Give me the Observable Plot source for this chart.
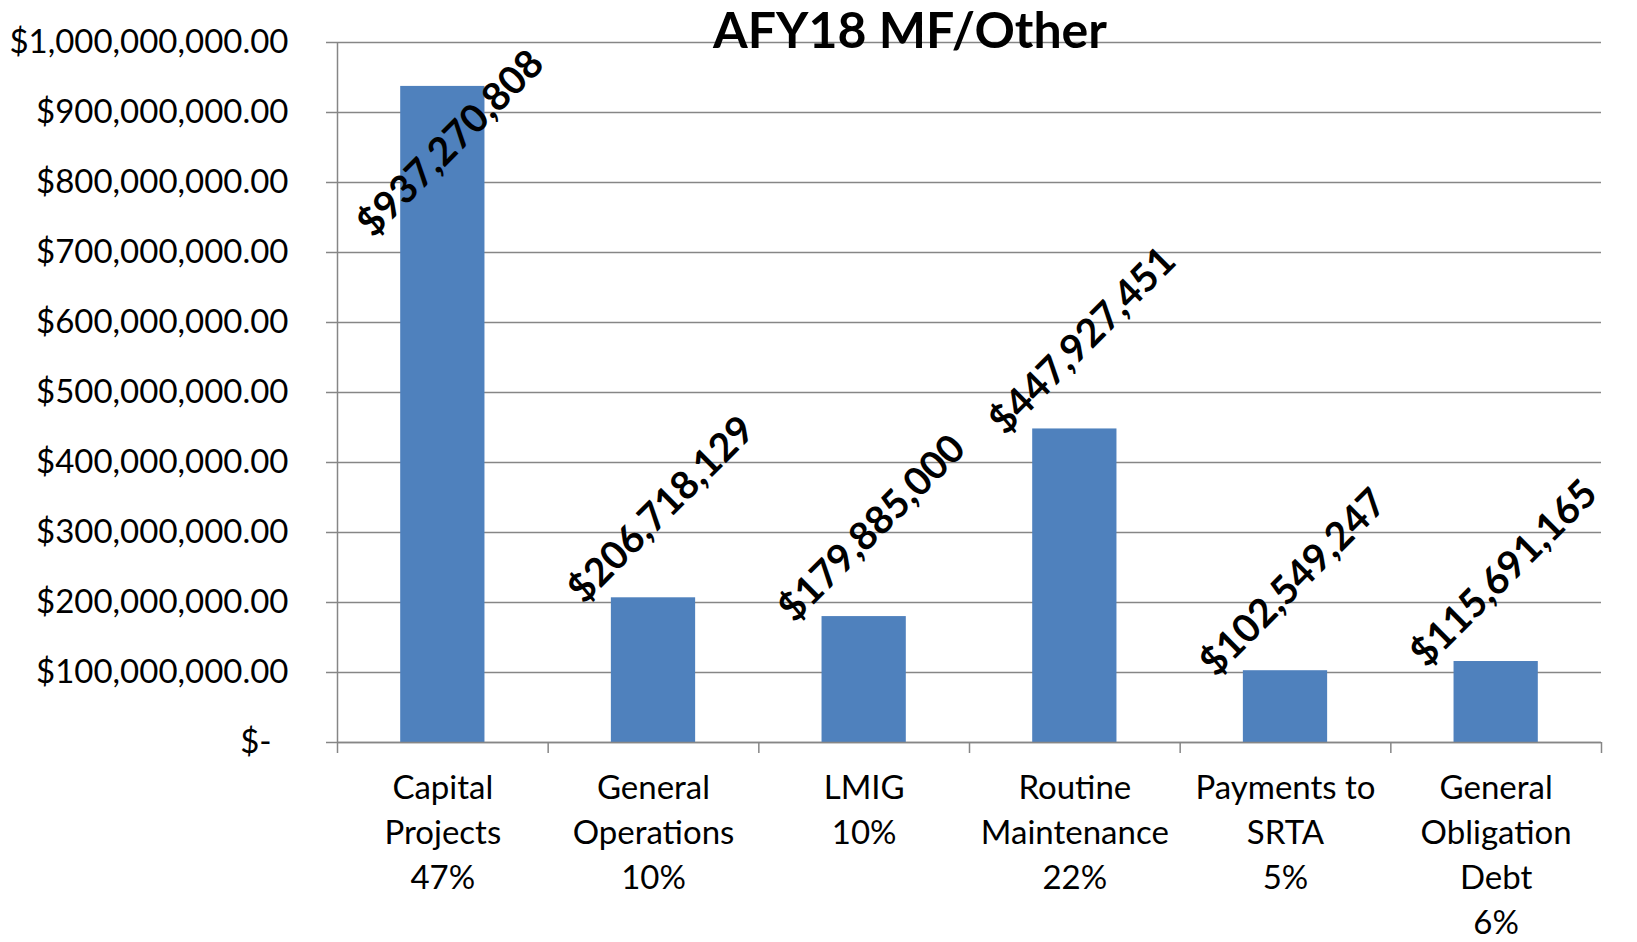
<!DOCTYPE html>
<html>
<head>
<meta charset="utf-8">
<script src="https://cdn.jsdelivr.net/npm/d3@7"></script>
<script src="https://cdn.jsdelivr.net/npm/@observablehq/plot@0.6"></script>
<style>
  html, body { margin: 0; padding: 0; background: #fff; }
  #wrap { position: relative; width: 1637px; height: 942px; }
  #title { position: absolute; top: 4px; left: 910px; transform: translateX(-50%);
           font-family: Lato, sans-serif; font-weight: bold; font-size: 50px; line-height: 50px;
           white-space: nowrap; color: #000; }
</style>
</head>
<body>
<div id="wrap"><div id="chart"></div><div id="title">AFY18 MF/Other</div></div>
<script>
const categories = ["Capital Projects", "General Operations", "LMIG", "Routine Maintenance", "Payments to SRTA", "General Obligation Debt"];
const categoryLines = [["Capital", "Projects"], ["General", "Operations"], ["LMIG"], ["Routine", "Maintenance"], ["Payments to", "SRTA"], ["General", "Obligation", "Debt"]];
const shares = ["47%", "10%", "10%", "22%", "5%", "6%"];
const amounts = [937270808, 206718129, 179885000, 447927451, 102549247, 115691165];
const yTicks = [0, 100e6, 200e6, 300e6, 400e6, 500e6, 600e6, 700e6, 800e6, 900e6, 1000e6];

const W = 1637, H = 942, ML = 337, MR = 36, MT = 42, MB = 200;
const step = (W - ML - MR) / categories.length;
const gray = "#868686";

const rows = categories.map((c, i) => ({
  i, category: c, value: amounts[i],
  label: [...categoryLines[i], shares[i]].join("\n")
}));

const money = d3.format("$,.2f");
const money0 = d3.format("$,.0f");

const chart = Plot.plot({
  width: W, height: H,
  marginLeft: ML, marginRight: MR, marginTop: MT, marginBottom: MB,
  style: { fontFamily: "Lato, sans-serif", fontSize: "33px", color: "#000", background: "transparent" },
  x: { type: "linear", domain: [0, categories.length], axis: null },
  y: { domain: [0, 1e9], axis: null },
  marks: [
    Plot.gridY(yTicks, { stroke: gray, strokeOpacity: 1, strokeWidth: 1.5 }),
    Plot.axisY({ ticks: yTicks, label: null, tickSize: 11, tickPadding: 38, stroke: gray, strokeWidth: 1.5, fill: "#000",
      fontSize: 33, tickFormat: d => d === 0 ? "$-\u00a0\u00a0" : money(d) }),
    Plot.ruleX([0], { stroke: gray, strokeWidth: 1.5 }),
    Plot.rectY(rows, { x1: "i", x2: d => d.i + 1, y: "value", fill: "#4F81BD",
      insetLeft: step * 0.3, insetRight: step * 0.3 }),
    Plot.ruleY([0], { stroke: gray, strokeWidth: 1.5 }),
    Plot.axisX({ ticks: d3.range(categories.length + 1), label: null, tickSize: 11, stroke: gray, strokeWidth: 1.5,
      tickFormat: () => "" }),
    Plot.text(rows, { x: d => d.i + 0.5, y: 0, text: "label", lineAnchor: "top", dy: 25,
      fontSize: 33, lineHeight: 1.36, fill: "#000" }),
    Plot.text(rows, { x: d => d.i + 0.5, y: d => Math.min(d.value, 730e6), text: d => money0(d.value),
      rotate: -45, fontSize: 39, fontWeight: "bold", fill: "#000", dx: 8, dy: -88 })
  ]
});
document.getElementById("chart").appendChild(chart);
</script>
</body>
</html>
